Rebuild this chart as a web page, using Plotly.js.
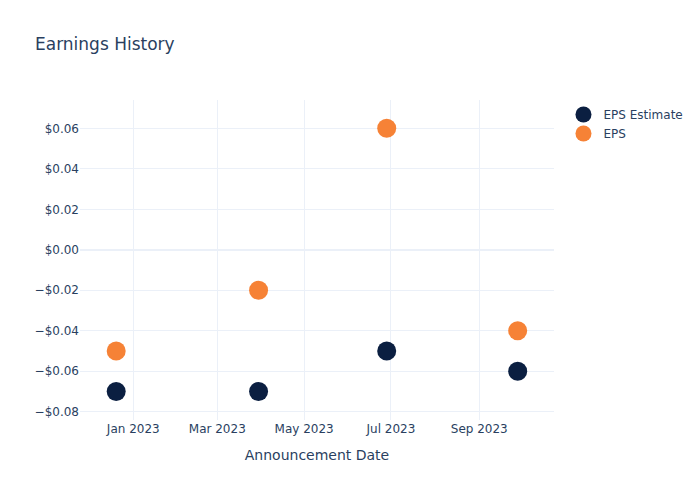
<!DOCTYPE html>
<html>
<head>
<meta charset="utf-8">
<script src="https://cdn.plot.ly/plotly-3.0.1.min.js"></script>
<style>html,body{margin:0;padding:0;background:#fff;}</style>
</head>
<body>
<div id="chart" style="width:700px;height:500px;"></div>
<script>
const dates = ['2022-12-20', '2023-03-30', '2023-06-28', '2023-09-28'];
const epsEstimate = [-0.07, -0.07, -0.05, -0.06];
const eps = [-0.05, -0.02, 0.06, -0.04];

const grid = '#EBF0F8';
const traces = [
  {x: dates, y: epsEstimate, name: 'EPS Estimate', type: 'scatter', mode: 'markers',
   marker: {color: '#0b1f41', size: 19}},
  {x: dates, y: eps, name: 'EPS', type: 'scatter', mode: 'markers',
   marker: {color: '#f68236', size: 19}}
];
const layout = {
  width: 700, height: 500,
  paper_bgcolor: '#fff', plot_bgcolor: '#fff',
  font: {family: '"DejaVu Sans", verdana, arial, sans-serif', color: '#2a3f5f', size: 12},
  title: {text: 'Earnings History', x: 0.05, xanchor: 'left', font: {size: 17}},
  margin: {t: 100, b: 80, l: 80, r: 80},
  xaxis: {
    title: {text: 'Announcement Date', font: {size: 14}, standoff: 15},
    automargin: true,
    type: 'date',
    range: ['2022-11-24 14:00', '2023-10-23 12:00'],
    gridcolor: grid, showline: false, zeroline: false,
    ticks: '', dtick: 'M2', tick0: '2023-01-01', tickformat: '%b %Y'
  },
  yaxis: {
    range: [-0.0841, 0.074],
    tickformat: '$.2f', dtick: 0.02,
    gridcolor: grid, zerolinecolor: grid, zerolinewidth: 2, showline: false,
    ticks: ''
  },
  legend: {x: 1.02, y: 1, xanchor: 'left', yanchor: 'top'},
  showlegend: true
};
Plotly.newPlot('chart', traces, layout, {displayModeBar: false});
</script>
</body>
</html>
